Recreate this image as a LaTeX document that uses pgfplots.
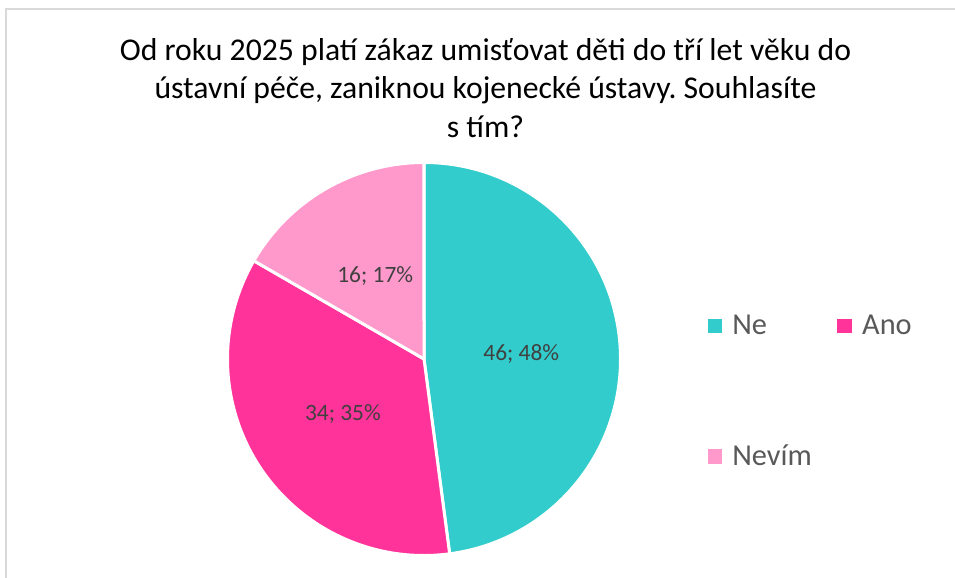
\documentclass[border=0pt]{standalone}
\usepackage{pgfplots}
\pgfplotsset{compat=1.18}
\usepackage{pgfplotstable}
\usepackage{fontspec}
\setmainfont{Carlito}
\frenchspacing
\definecolor{cNe}{HTML}{33CCCC}
\definecolor{cAno}{HTML}{FF3399}
\definecolor{cNev}{HTML}{FF99CC}
\definecolor{lgtext}{HTML}{595959}
\definecolor{lbtext}{HTML}{404040}
\definecolor{frame}{HTML}{D9D9D9}

\pgfplotstableread{
name value
Ne 46
Ano 34
Nevim 16
}\piedata

\begin{document}
\begin{tikzpicture}
\pgfplotstablegetelem{0}{value}\of\piedata \edef\vA{\pgfplotsretval}
\pgfplotstablegetelem{1}{value}\of\piedata \edef\vB{\pgfplotsretval}
\pgfplotstablegetelem{2}{value}\of\piedata \edef\vC{\pgfplotsretval}
\pgfmathsetmacro\tot{\vA+\vB+\vC}
\pgfmathsetmacro\aA{90-360*(\vA/\tot)}
\pgfmathsetmacro\aB{\aA-360*(\vB/\tot)}
\pgfmathsetmacro\aC{\aB-360*(\vC/\tot)}
\pgfmathsetmacro\mA{(90+\aA)/2}
\pgfmathsetmacro\mB{(\aA+\aB)/2}
\pgfmathsetmacro\mC{(\aB+\aC)/2}
\pgfmathtruncatemacro\pA{round(100*(\vA/\tot))}
\pgfmathtruncatemacro\pB{round(100*(\vB/\tot))}
\pgfmathtruncatemacro\pC{round(100*(\vC/\tot))}
\useasboundingbox (0,0) rectangle (955bp,578bp);
\begin{axis}[
  at={(0,0)}, anchor=south west,
  width=955bp, height=578bp, scale only axis,
  xmin=0, xmax=955, ymin=0, ymax=578,
  hide axis, clip=false,
  legend columns=2,
  legend cell align=left,
  legend style={
    at={(axis cs:707.3,262.8)}, anchor=north west,
    draw=none, fill=none, inner sep=0bp,
    font=\fontsize{30.5}{36}\selectfont, text=lgtext,
    row sep=108.5bp,
    nodes={inner sep=0bp},
    /tikz/every odd column/.style={column sep=11bp},
    /tikz/every even column/.style={column sep=25.5bp},
  },
]
\addlegendimage{legend image code/.code={\fill[cNe] (0bp,-6.7bp) rectangle (13.4bp,6.7bp);}}
\addlegendentry{Ne}
\addlegendimage{legend image code/.code={\fill[cAno] (0bp,-6.7bp) rectangle (13.4bp,6.7bp);}}
\addlegendentry{Ano}
\addlegendimage{legend image code/.code={\fill[cNev] (0bp,-6.7bp) rectangle (13.4bp,6.7bp);}}
\addlegendentry{Nevím}

% frame
\draw[frame, line width=2bp] (axis cs:6,0) -- (axis cs:6,569) -- (axis cs:955,569);

% pie
\fill[cNe, draw=white, line width=3bp, line join=round] (axis cs:424,219) -- ++(90:196.5bp) arc[start angle=90, end angle=\aA, radius=196.5bp] -- cycle;
\fill[cAno, draw=white, line width=3bp, line join=round] (axis cs:424,219) -- ++(\aA:196.5bp) arc[start angle=\aA, end angle=\aB, radius=196.5bp] -- cycle;
\fill[cNev, draw=white, line width=3bp, line join=round] (axis cs:424,219) -- ++(\aB:196.5bp) arc[start angle=\aB, end angle=\aC, radius=196.5bp] -- cycle;

% labels
\path (axis cs:424,219) ++(\mA:97.5bp) node[anchor=base, yshift=-7.5bp, text=lbtext, font=\fontsize{23.5}{28}\selectfont, inner sep=0bp] {\vA; \pA\%};
\path (axis cs:424,219) ++(\mB:97.5bp) node[anchor=base, yshift=-7.5bp, text=lbtext, font=\fontsize{23.5}{28}\selectfont, inner sep=0bp] {\vB; \pB\%};
\path (axis cs:424,219) ++(\mC:97.5bp) node[anchor=base, yshift=-7.5bp, text=lbtext, font=\fontsize{23.5}{28}\selectfont, inner sep=0bp] {\vC; \pC\%};

% title
\node[anchor=base, font=\fontsize{31.8}{38}\selectfont, inner sep=0bp] at (axis cs:485.5,517) {Od roku 2025 platí zákaz umisťovat děti do tří let věku do};
\node[anchor=base, font=\fontsize{31.8}{38}\selectfont, inner sep=0bp] at (axis cs:485.5,479.7) {ústavní péče, zaniknou kojenecké ústavy. Souhlasíte};
\node[anchor=base, font=\fontsize{31.8}{38}\selectfont, inner sep=0bp] at (axis cs:485.5,440.7) {s tím?};
\end{axis}
\end{tikzpicture}
\end{document}
